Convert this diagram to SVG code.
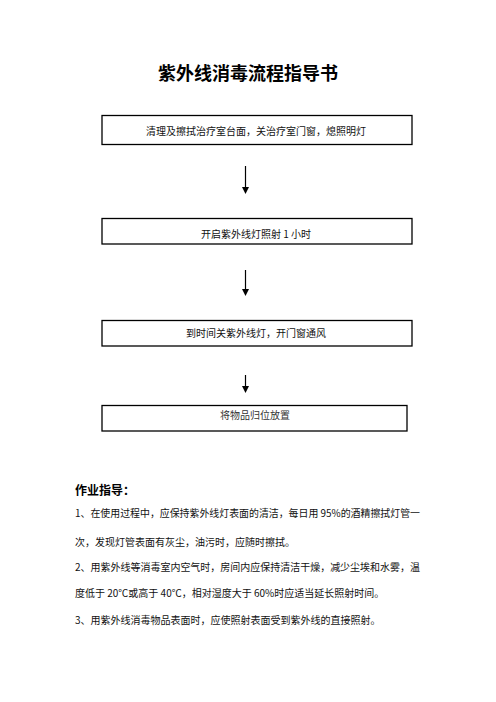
<svg xmlns="http://www.w3.org/2000/svg" width="496" height="702" viewBox="0 0 496 702">
<defs>
<style>
.box{fill:#fff;stroke:#000;stroke-width:1.3}
.t{font-family:"Noto Sans CJK SC","Liberation Sans",sans-serif;font-size:10px;fill:#111}
.c{text-anchor:middle}
.conn{stroke:#000;stroke-width:1.2;fill:none}
</style>
<marker id="ah" viewBox="0 0 8 8" refX="4" refY="8" markerWidth="6" markerHeight="6" markerUnits="userSpaceOnUse" orient="auto-start-reverse">
<path d="M0,0 L8,0 L4,8 Z" fill="#000" transform="rotate(-90 4 4)"/>
</marker>
</defs>
<rect width="496" height="702" fill="#fff"/>
<text x="248" y="80" text-anchor="middle" font-family="'Noto Sans CJK SC','Liberation Sans',sans-serif" font-size="18" font-weight="bold" fill="#000">紫外线消毒流程指导书</text>
<g id="connectors">
<line class="conn" x1="245.5" y1="166" x2="245.5" y2="188"/>
<polygon points="242,187 249,187 245.5,194" fill="#000"/>
<line class="conn" x1="245.5" y1="270" x2="245.5" y2="290"/>
<polygon points="242,289 249,289 245.5,296" fill="#000"/>
<line class="conn" x1="245.5" y1="375" x2="245.5" y2="387"/>
<polygon points="242,386 249,386 245.5,393" fill="#000"/>
</g>
<g id="node1">
<rect class="box" x="102" y="115.5" width="310" height="29"/>
<text class="t c" x="256" y="134.5">清理及擦拭治疗室台面，关治疗室门窗，熄照明灯</text>
</g>
<g id="node2">
<rect class="box" x="102" y="218.5" width="310" height="25.5"/>
<text class="t c" x="256" y="237.5">开启紫外线灯照射 1 小时</text>
</g>
<g id="node3">
<rect class="box" x="102" y="320.5" width="310" height="25.5"/>
<text class="t c" x="256" y="337">到时间关紫外线灯，开门窗通风</text>
</g>
<g id="node4">
<rect class="box" x="102" y="405.5" width="305" height="25.5"/>
<text class="t c" x="255" y="418.5" style="fill:#333">将物品归位放置</text>
</g>
<g id="notes">
<text x="75" y="494.5" font-family="'Noto Sans CJK SC','Liberation Sans',sans-serif" font-size="12" font-weight="bold" fill="#000">作业指导：</text>
<text class="t" x="75" y="517" textLength="345" lengthAdjust="spacingAndGlyphs">1、在使用过程中，应保持紫外线灯表面的清洁，每日用 95%的酒精擦拭灯管一</text>
<text class="t" x="75" y="546">次，发现灯管表面有灰尘，油污时，应随时擦拭。</text>
<text class="t" x="75" y="571" textLength="345" lengthAdjust="spacingAndGlyphs">2、用紫外线等消毒室内空气时，房间内应保持清洁干燥，减少尘埃和水雾，温</text>
<text class="t" x="75" y="597">度低于 20℃或高于 40℃，相对湿度大于 60%时应适当延长照射时间。</text>
<text class="t" x="75" y="624">3、用紫外线消毒物品表面时，应使照射表面受到紫外线的直接照射。</text>
</g>
</svg>
